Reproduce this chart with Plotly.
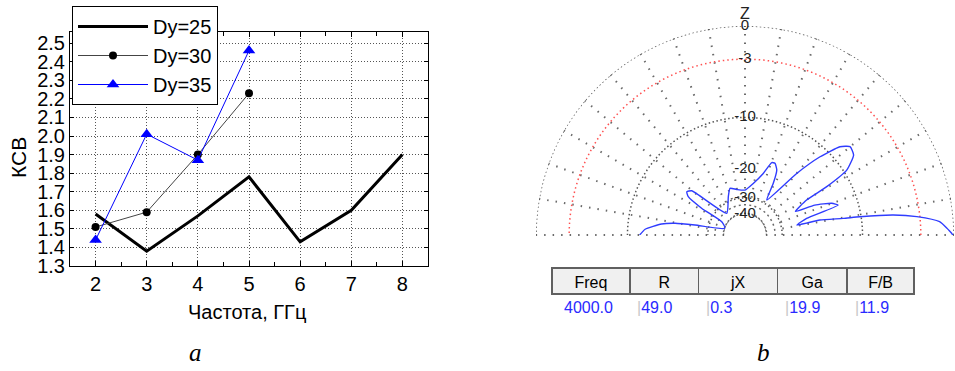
import plotly.graph_objects as go

W, H = 955, 371

# ---------------- data: left chart (VSWR vs frequency) ----------------
freq_25 = [2, 3, 4, 5, 6, 7, 8]
vswr_25 = [1.58, 1.38, 1.57, 1.78, 1.43, 1.60, 1.90]
freq_30 = [2, 3, 4, 5]
vswr_30 = [1.51, 1.59, 1.90, 2.23]
freq_35 = [2, 3, 4, 5]
vswr_35 = [1.44, 2.01, 1.87, 2.46]
x_tick_vals = [2, 3, 4, 5, 6, 7, 8]
y_tick_vals = [1.3, 1.4, 1.5, 1.6, 1.7, 1.8, 1.9, 2.0, 2.1, 2.2, 2.3, 2.4, 2.5]
series_names = ["Dy=25", "Dy=30", "Dy=35"]

# ---------------- data: right chart (elevation pattern, dB) ----------------
pattern_theta = [0, 0.5, 3.9, 6.1, 7.7, 9.05, 9.6, 11.3, 10.9, 15.1, 17.8, 20.1, 23.2, 25.0,
                 29.6, 30.6, 32.6, 36.4, 40.1, 42.9, 46.2, 50.0, 58.2, 61.3, 64.0, 67.3, 69.7,
                 73.5, 80.9, 90.0, 100.3, 107.8, 113.6, 130.1, 140.3, 143.4, 146.0, 148.3,
                 150.3, 161.6, 168.7, 170.5, 172.5, 176.7, 180.0]
pattern_db = [-0.1, -0.2, -1.2, -3.3, -5.8, -10.2, -12.9, -17.5, -23.9, -20.6, -13.2, -14.2,
              -17.6, -23.0, -18.8, -13.7, -9.5, -7.6, -7.3, -8.3, -11.4, -16.6, -28.2, -22.0,
              -18.4, -17.2, -17.3, -20.5, -24.1, -26.7, -26.2, -25.2, -28.0, -34.7, -19.2,
              -18.4, -19.4, -24.5, -35.7, -40.0, -24.5, -18.8, -15.8, -12.8, -11.9]
ring_db_gray = [0, -10, -30, -40]
ring_db_red = [-3]
ring_labels_db = [0, -3, -10, -20, -30, -40]

# ---------------- data: table ----------------
table_headers = ["Freq", "R", "jX", "Ga", "F/B"]
table_values = ["4000.0", "49.0", "0.3", "19.9", "11.9"]
table_col_px = [552, 630, 699, 778, 848, 915]   # column borders (layout)


def arrl(db):
    """ARRL log scale used by the pattern plot: normalised radius."""
    return 10 ** (db / 40.0)


def px(xp):
    return xp / W


def py(yp):
    return 1 - yp / H


fig = go.Figure()

# left chart traces
fig.add_trace(go.Scatter(x=freq_25, y=vswr_25, mode="lines", name=series_names[0],
                         line=dict(color="black", width=3)))
fig.add_trace(go.Scatter(x=freq_30, y=vswr_30, mode="lines+markers", name=series_names[1],
                         line=dict(color="#444444", width=1),
                         marker=dict(symbol="circle", size=8, color="black")))
fig.add_trace(go.Scatter(x=freq_35, y=vswr_35, mode="lines+markers", name=series_names[2],
                         line=dict(color="#0000ff", width=1),
                         marker=dict(symbol="triangle-up", size=11, color="#0000ff")))

# polar: rings
theta_ring = list(range(0, 181, 2))
for db in ring_db_gray:
    fig.add_trace(go.Scatterpolar(theta=theta_ring, r=[arrl(db)] * len(theta_ring),
                                  mode="lines", subplot="polar", showlegend=False,
                                  hoverinfo="skip",
                                  line=dict(color="#555555", width=1.5, dash="1.5px,2.5px")))
for db in ring_db_red:
    fig.add_trace(go.Scatterpolar(theta=theta_ring, r=[arrl(db)] * len(theta_ring),
                                  mode="lines", subplot="polar", showlegend=False,
                                  hoverinfo="skip",
                                  line=dict(color="#ff5050", width=1.5, dash="1.5px,3px")))
# pattern
fig.add_trace(go.Scatterpolar(theta=pattern_theta, r=[arrl(d) for d in pattern_db],
                              mode="lines", subplot="polar", showlegend=False,
                              line=dict(color="#2f3cff", width=1.4, shape="spline", smoothing=0.5)))
# ring labels
fig.add_trace(go.Scatterpolar(theta=[90] * len(ring_labels_db),
                              r=[arrl(d) for d in ring_labels_db],
                              text=[str(d) for d in ring_labels_db],
                              mode="text", subplot="polar", showlegend=False, cliponaxis=False,
                              textfont=dict(family="Liberation Sans", size=15, color="#222222")))

# table header
fig.add_trace(go.Table(
    domain=dict(x=[px(table_col_px[0]), px(table_col_px[-1])], y=[py(300), py(268)]),
    columnwidth=[b - a for a, b in zip(table_col_px[:-1], table_col_px[1:])],
    header=dict(values=table_headers, fill_color="#f0f0f0",
                line=dict(color="#606060", width=1.5), align="center", height=26,
                font=dict(family="Liberation Sans", size=16, color="black")),
    cells=dict(values=[[""] for _ in table_headers], fill_color="white",
               line=dict(color="white", width=0), height=2),
))

annotations = [
    dict(text="КСВ", x=px(18), y=py(158), textangle=-90, font=dict(size=21)),
    dict(text="Частота, ГГц", x=px(247), y=py(312), font=dict(size=20)),
    dict(text="<i>a</i>", x=px(195), y=py(352),
         font=dict(family="Liberation Serif", size=25)),
    dict(text="<i>b</i>", x=px(763), y=py(352),
         font=dict(family="Liberation Serif", size=25)),
    dict(text="Z", x=px(745), y=py(14),
         font=dict(family="Liberation Sans", size=16, color="#222222")),
]
for a in annotations:
    a.update(xref="paper", yref="paper", showarrow=False, xanchor="center", yanchor="middle")

# table value row
for i, v in enumerate(table_values):
    txt = v if i == 0 else '<span style="color:#c8c8c8">|</span>' + v
    annotations.append(dict(text=txt, x=px(table_col_px[i] + (10 if i == 0 else 5)), y=py(307),
                            xref="paper", yref="paper", showarrow=False,
                            xanchor="left", yanchor="middle",
                            font=dict(family="Liberation Sans", size=16, color="#2a2aff")))

grid_dash = "1px,2px"
fig.update_layout(
    width=W, height=H, autosize=False,
    margin=dict(l=0, r=0, t=0, b=0),
    paper_bgcolor="white", plot_bgcolor="white",
    font=dict(family="Liberation Sans", size=20, color="black"),
    xaxis=dict(domain=[px(70), px(428)], range=[1.5, 8.5], tickvals=x_tick_vals,
               ticks="inside", ticklen=5, tickcolor="black",
               minor=dict(dtick=0.5, tick0=1.5, ticks="inside", ticklen=4, tickcolor="black",
                          showgrid=False),
               showline=True, linecolor="black", linewidth=1, mirror="ticks",
               showgrid=True, gridcolor="#555555", gridwidth=1, griddash=grid_dash,
               zeroline=False, automargin=False, fixedrange=True,
               tickfont=dict(size=20)),
    yaxis=dict(domain=[py(266), py(32)], range=[1.3, 2.56], tickvals=y_tick_vals,
               tickformat=".1f", ticks="inside", ticklen=4, tickcolor="black",
               showline=True, linecolor="black", linewidth=1, mirror="ticks",
               showgrid=True, gridcolor="#555555", gridwidth=1, griddash=grid_dash,
               zeroline=False, automargin=False, fixedrange=True,
               tickfont=dict(size=20)),
    legend=dict(x=px(72), y=py(6), xanchor="left", yanchor="top",
                bgcolor="white", bordercolor="black", borderwidth=1,
                font=dict(family="Liberation Sans", size=20), itemwidth=70,
                tracegroupgap=0),
    polar=dict(
        domain=dict(x=[px(536), px(954)], y=[py(235), py(26)]),
        sector=[0, 180], hole=0.1, bgcolor="white",
        radialaxis=dict(range=[0.1, 1], showgrid=False, showline=False, showticklabels=False,
                        ticks=""),
        angularaxis=dict(rotation=0, direction="counterclockwise", dtick=10,
                         showgrid=True, gridcolor="#6a6a6a", gridwidth=1.5,
                         griddash="1.5px,7px", showline=False, showticklabels=False,
                         ticks=""),
    ),
    annotations=annotations,
)

fig.write_html("out.html")
